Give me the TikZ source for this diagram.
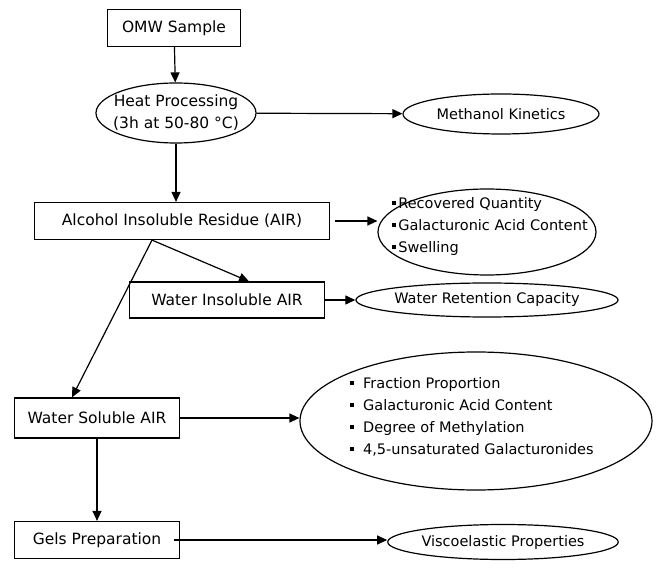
\documentclass[tikz,border=0pt]{standalone}
\usepackage{fontspec}
\setmainfont{DejaVu Sans}
\usetikzlibrary{shapes.geometric,arrows.meta}
\newcommand{\sqbullet}{\raisebox{0.28em}{\rule{3.6pt}{3.6pt}}}
\tikzset{
  box/.style={draw, rectangle, inner sep=0pt},
  oval/.style={draw, ellipse, inner sep=0pt, font=\fontsize{14.5}{22}\selectfont},
  txt/.style={inner sep=0pt, align=center},
  lst/.style={inner sep=0pt, align=left, font=\fontsize{14.5}{22}\selectfont},
  flow/.style={-{Triangle[length=10pt,width=9pt]}}
}
\begin{document}
\begin{tikzpicture}[x=1pt,y=-1pt,line width=1.2pt,font=\fontsize{15.5}{22}\selectfont]
\useasboundingbox (0,0) rectangle (659,585);

\node[box, minimum width=133, minimum height=37] (omw) at (174,28) {OMW Sample};
\node[oval, minimum width=160, minimum height=60] (heat) at (176,113) {};
\node[txt] (heatText) at (176,113) {Heat Processing\\(3h at 50-80 °C)};
\node[oval, minimum width=196, minimum height=40] (meth) at (501,114) {Methanol Kinetics};

\node[box, minimum width=295, minimum height=37] (air) at (182,221) {Alcohol Insoluble Residue (AIR)};
\node[oval, minimum width=218, minimum height=86] (recov) at (487,232) {};
\node[lst] (recovText) at (490,227) {\sqbullet\,Recovered Quantity\\\sqbullet\,Galacturonic Acid Content\\\sqbullet\,Swelling};

\node[box, minimum width=195, minimum height=36] (wia) at (227,300) {Water Insoluble AIR};
\node[oval, minimum width=205, minimum height=34] (wrc) at (487,300) {Water Retention Capacity};

\node[box, minimum width=165, minimum height=40] (wsa) at (97,418) {Water Soluble AIR};
\node[oval, minimum width=352, minimum height=138] (props) at (476,421) {};
\node[lst] (propsText) at (472,417) {\sqbullet\ \ Fraction Proportion\\\sqbullet\ \ Galacturonic Acid Content\\\sqbullet\ \ Degree of Methylation\\\sqbullet\ \ 4,5-unsaturated Galacturonides};

\node[box, minimum width=165, minimum height=37] (gels) at (97,540) {Gels Preparation};
\node[oval, minimum width=207, minimum height=35] (visco) at (503,542) {Viscoelastic Properties};

\coordinate (fork) at ([xshift=-30pt]air.south);

\draw[flow] (omw) -- (heat);
\draw[flow] (heat) -- (meth);
\draw[flow] (heat.south) -- (heat.south |- air.north);
\draw[flow] ([xshift=5pt]air.east) -- (air.east -| recov.west);
\draw[flow] (fork) -- ([xshift=22pt]wia.north);
\draw[flow] (fork) -- ([xshift=-25pt]wsa.north);
\draw[flow] (wia) -- (wrc);
\draw[flow] (wsa.east) -- (wsa.east -| props.west);
\draw[flow] (wsa) -- (gels);
\draw[flow] ([xshift=-6pt]gels.east) -- (gels.east -| visco.west);

\end{tikzpicture}
\end{document}
